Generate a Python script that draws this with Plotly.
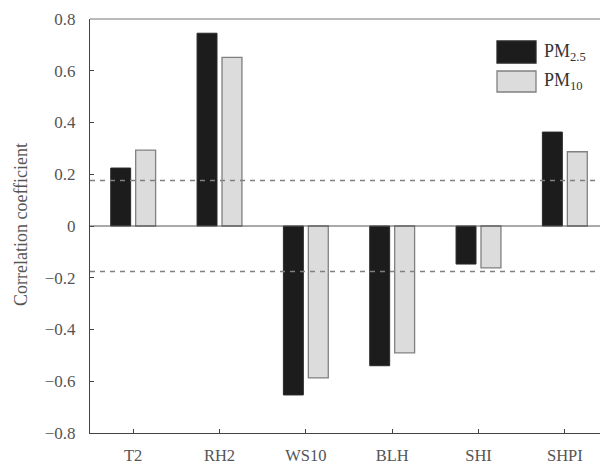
import plotly.graph_objects as go

categories = ["T2", "RH2", "WS10", "BLH", "SHI", "SHPI"]
pm25 = [0.224, 0.745, -0.653, -0.540, -0.147, 0.363]
pm10 = [0.293, 0.652, -0.587, -0.490, -0.162, 0.287]
sig_level = 0.176
series_names = ["PM<sub>2.5</sub>", "PM<sub>10</sub>"]
y_ticks = [-0.8, -0.6, -0.4, -0.2, 0, 0.2, 0.4, 0.6, 0.8]
y_tick_text = ["\u22120.8", "\u22120.6", "\u22120.4", "\u22120.2", "0", "0.2", "0.4", "0.6", "0.8"]
y_title = "Correlation coefficient"

OFF = 8  # default page body margin
W, H = 608 - OFF, 464 - OFF
ML, MR, MT, MB = 90 - OFF, 0, 19 - OFF, 31
font = "Liberation Serif, Times New Roman, serif"
axis_col = "#444444"
text_col = "#555555"

fig = go.Figure()
fig.add_trace(go.Bar(x=categories, y=pm25, name=series_names[0], width=0.231, offset=-0.26,
                     marker=dict(color="#1c1c1c", line=dict(color="#2a2a2a", width=1)),
                     showlegend=False))
fig.add_trace(go.Bar(x=categories, y=pm10, name=series_names[1], width=0.231, offset=0.029,
                     marker=dict(color="#dcdcdc", line=dict(color="#808080", width=1.3)),
                     showlegend=False))

for v in (sig_level, -sig_level):
    fig.add_shape(type="line", xref="paper", x0=0, x1=1, yref="y", y0=v, y1=v,
                  line=dict(color="#808080", width=1.4, dash="5px,5px"), layer="above")
# zero line
fig.add_shape(type="line", xref="paper", x0=0, x1=1, yref="y", y0=0, y1=0,
              line=dict(color="#555555", width=1), layer="above")
# top frame line
fig.add_shape(type="line", xref="paper", x0=0, x1=1, yref="paper", y0=1, y1=1,
              line=dict(color="#777777", width=1.2))

pw = W - ML - MR
ph = H - MT - MB
def px(x):
    return (x - OFF - ML) / pw
def py(y):
    return 1 - (y - OFF - MT) / ph

# y axis title
fig.add_annotation(xref="paper", yref="paper", x=px(21), y=py(225), text=y_title,
                   textangle=-90, showarrow=False, xanchor="center", yanchor="middle",
                   font=dict(family=font, size=18, color=text_col))

# custom legend
legend_items = [(series_names[0], "#1c1c1c", "#2a2a2a", 41, 63),
                (series_names[1], "#dcdcdc", "#808080", 71, 92)]
for name, fill, edge, y0, y1 in legend_items:
    fig.add_shape(type="rect", xref="paper", yref="paper",
                  x0=px(497), x1=px(536), y0=py(y1), y1=py(y0),
                  fillcolor=fill, line=dict(color=edge, width=1.3))
    fig.add_annotation(xref="paper", yref="paper", x=px(542), y=py((y0 + y1) / 2),
                       text=name, showarrow=False, xanchor="left", yanchor="middle",
                       font=dict(family=font, size=18, color="#333333"))

fig.update_layout(
    width=W, height=H,
    margin=dict(l=ML, r=MR, t=MT, b=MB, autoexpand=False),
    plot_bgcolor="white", paper_bgcolor="white",
    barmode="overlay",
    font=dict(family=font, size=17, color=text_col),
    xaxis=dict(range=[-0.5, 5.5], showline=True, linecolor=axis_col, linewidth=1.2,
               ticks="inside", ticklen=4, tickcolor=axis_col, tickwidth=1,
               showgrid=False, zeroline=False, tickfont=dict(size=16.5, color=text_col),
               ticklabelstandoff=7, automargin=False, fixedrange=True),
    yaxis=dict(range=[-0.8, 0.8], tickvals=y_ticks, ticktext=y_tick_text,
               showline=True, linecolor=axis_col, linewidth=1.2,
               ticks="inside", ticklen=4, tickcolor=axis_col, tickwidth=1,
               showgrid=False, zeroline=False, tickfont=dict(size=17, color=text_col),
               ticklabelstandoff=10, automargin=False, fixedrange=True),
)

fig.write_html("out.html")
